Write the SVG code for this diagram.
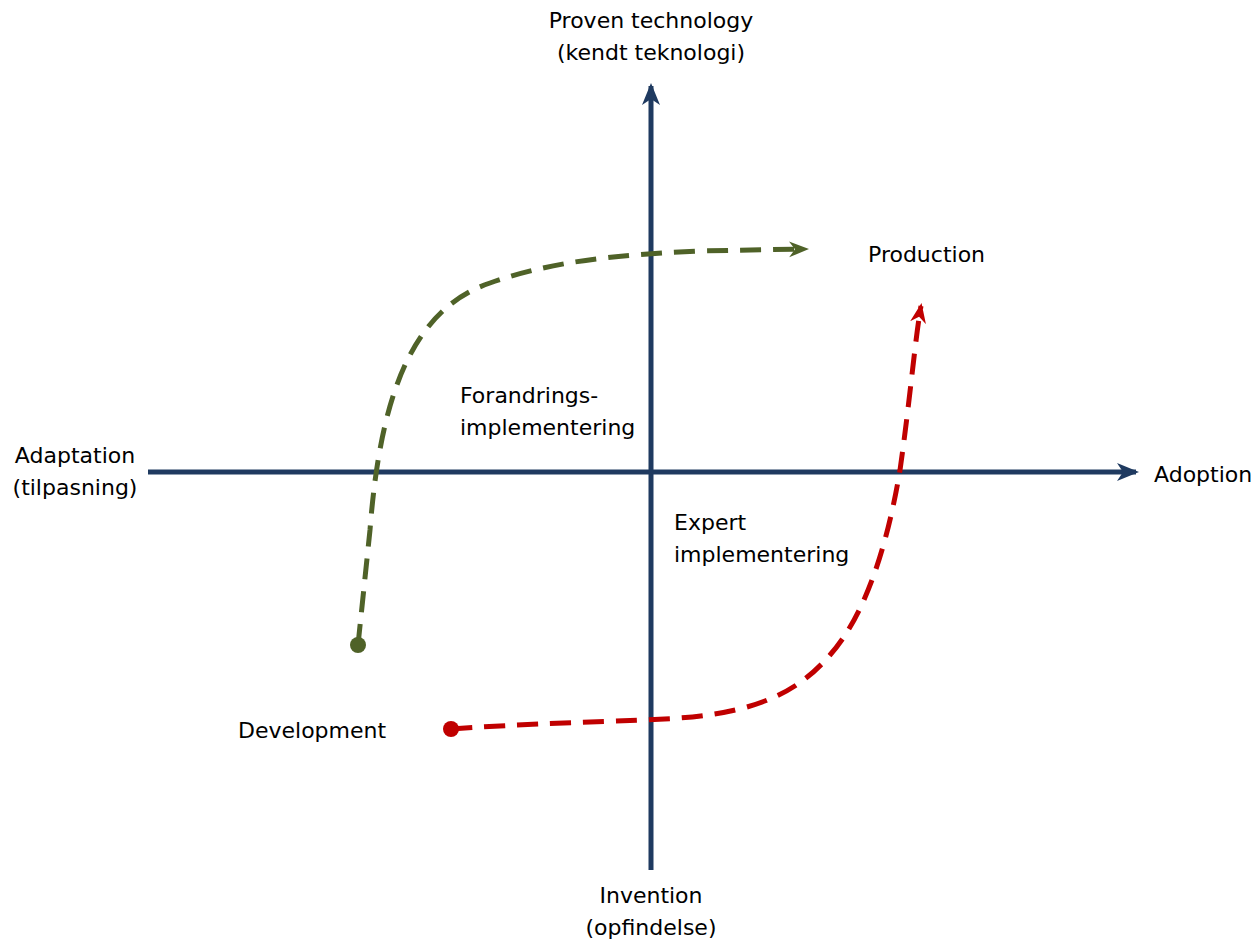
<svg xmlns="http://www.w3.org/2000/svg" width="1258" height="942" viewBox="0 0 1258 942">
<style>
.t{font-family:"DejaVu Sans",sans-serif;font-size:22px;fill:#000}
.ax{stroke:#1f3a60;stroke-width:5;fill:none}
.g{stroke:#4f6228;stroke-width:5;fill:none;stroke-dasharray:21 12}
.r{stroke:#c00000;stroke-width:5;fill:none;stroke-dasharray:21 12}
</style>
<defs>
<marker id="ah" markerUnits="userSpaceOnUse" markerWidth="26" markerHeight="22" refX="19" refY="11" orient="auto">
<path d="M0,2 L22,11 L0,20 L6,11 Z" fill="#1f3a60"/>
</marker>
<marker id="gh" markerUnits="userSpaceOnUse" markerWidth="24" markerHeight="20" refX="17" refY="10" orient="auto">
<path d="M0,2 L20,10 L0,18 L6,10 Z" fill="#4f6228"/>
</marker>
<marker id="rh" markerUnits="userSpaceOnUse" markerWidth="24" markerHeight="20" refX="17" refY="10" orient="auto">
<path d="M0,2 L20,10 L0,18 L6,10 Z" fill="#c00000"/>
</marker>
</defs>
<g id="connectors">
<path class="ax" d="M651,870 L651,86" marker-end="url(#ah)"/>
<path class="ax" d="M148,472 L1136,472" marker-end="url(#ah)"/>
<path class="g" d="M358,645 L370,530 C380,400 410,310 490,283 C550,262 610,255 700,251 L806,249" marker-end="url(#gh)"/>
<circle cx="358" cy="645" r="8" fill="#4f6228"/>
<path class="r" d="M451,729 C550,722 620,722 680,718 C760,712 800,690 830,655 C870,610 890,530 900,470 C910,400 915,340 921,306" marker-end="url(#rh)"/>
<circle cx="451" cy="729" r="8" fill="#c00000"/>
</g>
<g id="proven"><text class="t" x="651" y="28" text-anchor="middle">Proven technology</text><text class="t" x="651" y="60" text-anchor="middle">(kendt teknologi)</text></g>
<g id="production"><text class="t" x="868" y="262">Production</text></g>
<g id="adaptation"><text class="t" x="75" y="463" text-anchor="middle">Adaptation</text><text class="t" x="75" y="495" text-anchor="middle">(tilpasning)</text></g>
<g id="adoption"><text class="t" x="1154" y="482">Adoption</text></g>
<g id="forandring"><text class="t" x="460" y="403">Forandrings-</text><text class="t" x="460" y="435">implementering</text></g>
<g id="expert"><text class="t" x="674" y="530">Expert</text><text class="t" x="674" y="562">implementering</text></g>
<g id="development"><text class="t" x="238" y="738">Development</text></g>
<g id="invention"><text class="t" x="651" y="903" text-anchor="middle">Invention</text><text class="t" x="651" y="935" text-anchor="middle">(opfindelse)</text></g>
</svg>
